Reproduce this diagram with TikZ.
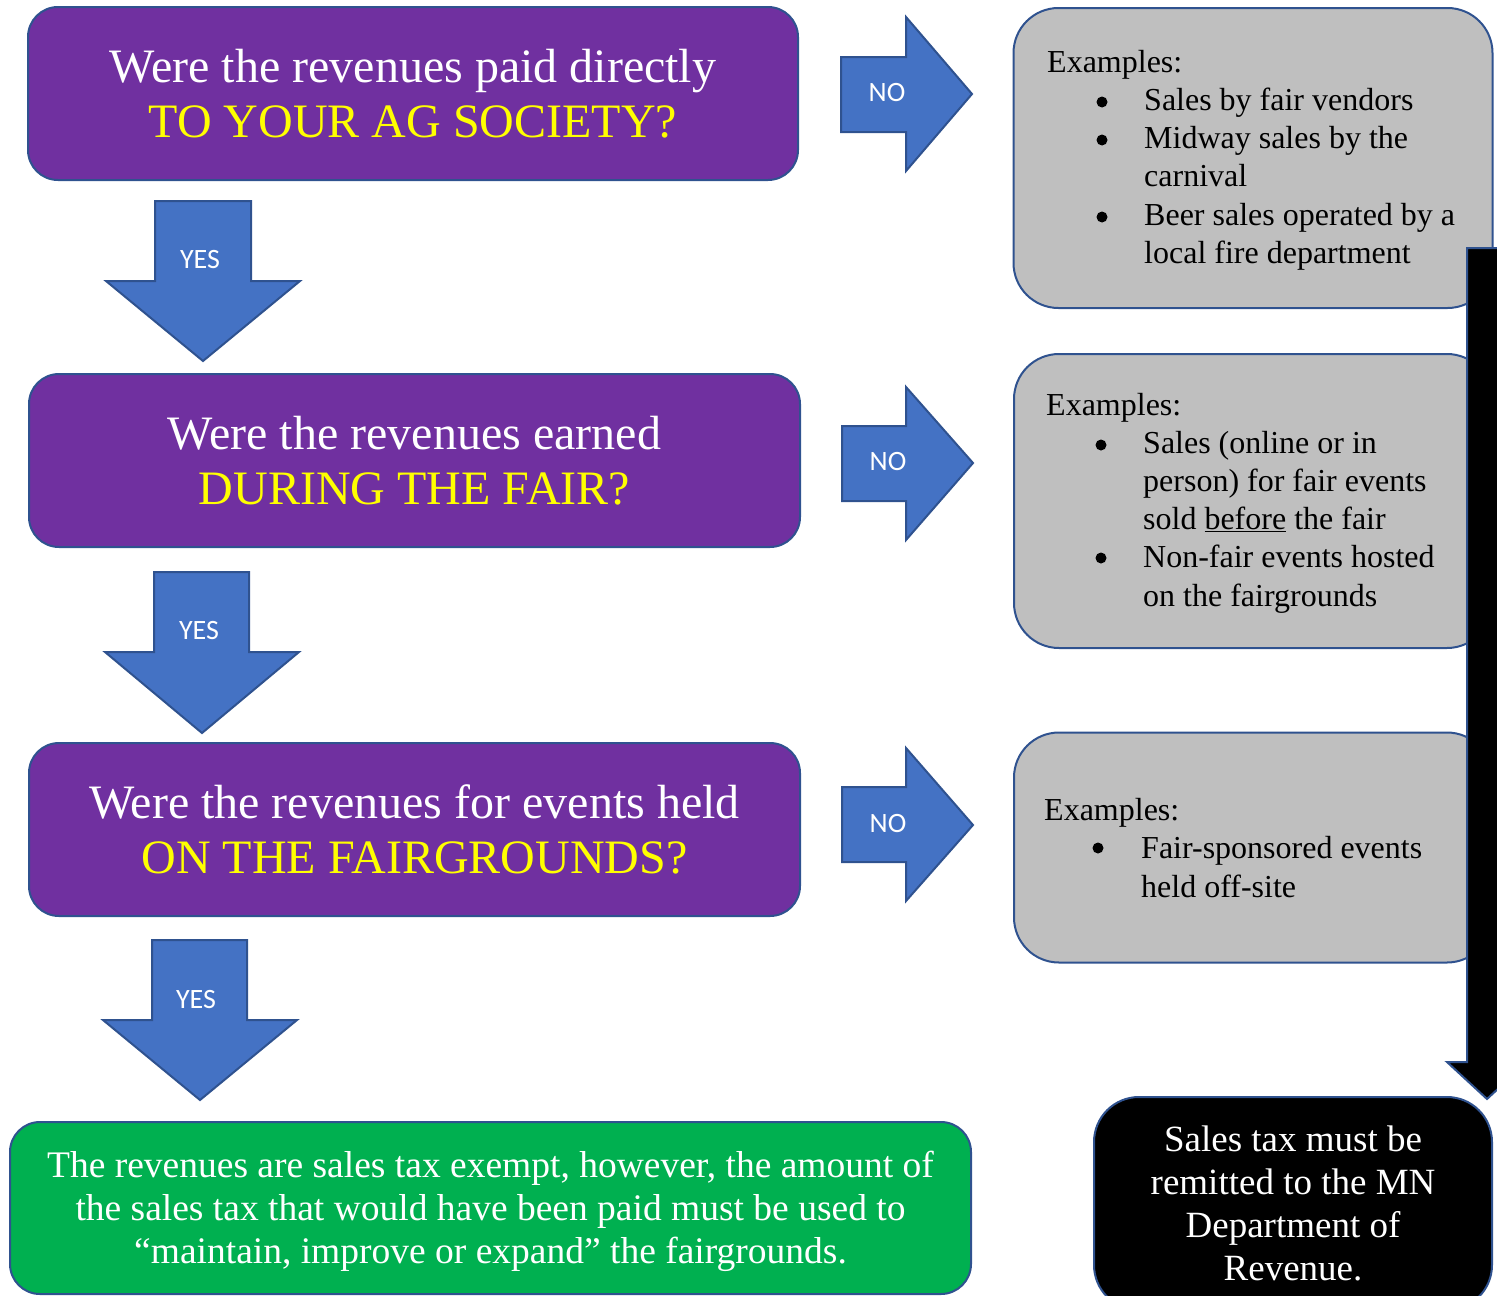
\documentclass[tikz,border=0pt]{standalone}
\usepackage{fontspec}
\setmainfont{Liberation Serif}
\newfontfamily\labelfont{Carlito}
\definecolor{purp}{HTML}{7030A0}
\definecolor{bord}{HTML}{2F528F}
\definecolor{arrblue}{HTML}{4472C4}
\definecolor{greyfill}{HTML}{BFBFBF}
\definecolor{greenfill}{HTML}{00B050}
\definecolor{yel}{HTML}{FFFF00}
\newcommand{\ind}{\hspace*{97pt}}
\tikzset{
  qbox/.style={draw=bord, line width=2pt, fill=purp, rounded corners=30pt, text=white,
    align=center, font=\fontsize{48}{55}\selectfont, inner sep=0pt},
  exbox/.style={draw=bord, line width=2pt, fill=greyfill, rounded corners=45pt},
  extext/.style={align=left, inner sep=0pt, font=\fontsize{32}{38.2}\selectfont, text=black},
  bulletdot/.style={fill=black},
  blockarrow/.style={draw=bord, line width=2pt, fill=arrblue},
  arrlabel/.style={text=white, font=\labelfont\fontsize{28}{32}\selectfont, inner sep=0pt},
  greenbox/.style={draw=bord, line width=2pt, fill=greenfill, rounded corners=30pt},
  greentext/.style={text=white, align=center, font=\fontsize{37.5}{43}\selectfont, inner sep=0pt},
  blackbox/.style={draw=bord, line width=2pt, fill=black, rounded corners=45pt, text=white,
    align=center, font=\fontsize{37}{43}\selectfont, inner sep=0pt}
}
\begin{document}
\begin{tikzpicture}[x=1pt,y=-1pt]
\useasboundingbox (0,0) rectangle (1497,1296);
\clip (0,0) rectangle (1497,1296);
% question boxes
\node[qbox, minimum width=770pt, minimum height=173pt] (q1) at (413,93.5)
  {Were the revenues paid directly\\ \textcolor{yel}{TO YOUR AG SOCIETY?}};
\node[qbox, minimum width=771pt, minimum height=173pt] (q2) at (414.5,460.5)
  {Were the revenues earned\\ \textcolor{yel}{DURING THE FAIR?}};
\node[qbox, minimum width=771pt, minimum height=173pt] (q3) at (414.5,829.5)
  {Were the revenues for events held\\ \textcolor{yel}{ON THE FAIRGROUNDS?}};
% example boxes
\node[exbox, minimum width=479pt, minimum height=300pt] (e1) at (1253,158) {};
\node[exbox, minimum width=478pt, minimum height=294pt] (e2) at (1253,501) {};
\node[exbox, minimum width=478pt, minimum height=230pt] (e3) at (1253,847.5) {};
\node[extext, anchor=west] (t1) at (1047,160)
  {Examples:\\ \ind Sales by fair vendors\\ \ind Midway sales by the\\ \ind carnival\\
   \ind Beer sales operated by a\\ \ind local fire department};
\node[extext, anchor=west] (t2) at (1046,503)
  {Examples:\\ \ind Sales (online or in\\ \ind person) for fair events\\ \ind sold \underline{before} the fair\\
   \ind Non-fair events hosted\\ \ind on the fairgrounds};
\node[extext, anchor=west] (t3) at (1044,848)
  {Examples:\\ \ind Fair-sponsored events\\ \ind held off-site};
% bullets
\fill[bulletdot] (1102,102) circle (5.5);
\fill[bulletdot] (1102,140) circle (5.5);
\fill[bulletdot] (1102,217) circle (5.5);
\fill[bulletdot] (1101,445) circle (5.5);
\fill[bulletdot] (1101,558) circle (5.5);
\fill[bulletdot] (1098,848) circle (5.5);
% NO arrows
\draw[blockarrow] (841,57) -- (906,57) -- (906,17) -- (972,94) -- (906,171) -- (906,132) -- (841,132) -- cycle;
\node[arrlabel] (no1) at (887,93) {NO};
\draw[blockarrow] (842,426) -- (906,426) -- (906,387) -- (973,463) -- (906,540) -- (906,501) -- (842,501) -- cycle;
\node[arrlabel] (no2) at (888,462) {NO};
\draw[blockarrow] (842,787) -- (906,787) -- (906,748) -- (973,825) -- (906,901) -- (906,862) -- (842,862) -- cycle;
\node[arrlabel] (no3) at (888,823) {NO};
% YES arrows
\draw[blockarrow] (155,201) -- (251,201) -- (251,281) -- (300,281) -- (203,361) -- (106,281) -- (155,281) -- cycle;
\node[arrlabel] (yes1) at (200,260) {YES};
\draw[blockarrow] (154,572) -- (249,572) -- (249,652) -- (299,652) -- (202,733) -- (105,652) -- (154,652) -- cycle;
\node[arrlabel] (yes2) at (199,631) {YES};
\draw[blockarrow] (152,940) -- (247,940) -- (247,1020) -- (297,1020) -- (200,1100) -- (103,1020) -- (152,1020) -- cycle;
\node[arrlabel] (yes3) at (196,999) {YES};
% black arrow
\draw[draw=bord, line width=2pt, fill=black] (1467,248) -- (1507,248) -- (1507,1062) -- (1527,1062) -- (1487,1099) -- (1447,1062) -- (1467,1062) -- cycle;
% result boxes
\node[greenbox, minimum width=961pt, minimum height=172pt] (g) at (490.5,1208) {};
\node[greentext] (gt) at (490.5,1211)
  {The revenues are sales tax exempt, however, the amount of\\
   the sales tax that would have been paid must be used to\\
   ``maintain, improve or expand'' the fairgrounds.};
\node[blackbox, minimum width=398pt, minimum height=213pt] (b) at (1293,1203.5)
  {Sales tax must be\\ remitted to the MN\\ Department of\\ Revenue.};
\end{tikzpicture}
\end{document}
